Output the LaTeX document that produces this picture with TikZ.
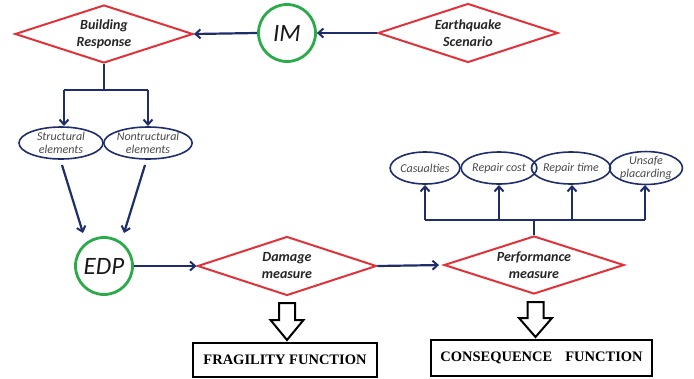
\documentclass[tikz,border=0pt]{standalone}
\usepackage{fontspec}
\setmainfont{Carlito}
\newfontfamily\timesf{Liberation Serif}
\usetikzlibrary{shapes.geometric,arrows.meta}
\definecolor{navy}{HTML}{1F2E6B}
\definecolor{dred}{HTML}{E0323A}
\definecolor{dgreen}{HTML}{2BAA4A}
\definecolor{etext}{HTML}{4A4A4A}
\tikzset{
  dia/.style={diamond, draw=dred, line width=2pt, inner sep=0pt, align=center, aspect=3.1,
    font=\fontsize{14}{17}\selectfont\bfseries\itshape, text=black!85},
  circ/.style={circle, draw=dgreen, line width=2.8pt, minimum size=57pt, inner sep=0pt,
    font=\fontsize{25}{27}\selectfont\itshape, text=black!90},
  ell/.style={ellipse, draw=navy, line width=1.6pt, inner sep=0pt, align=center,
    minimum height=32pt, font=\fontsize{12}{13}\selectfont\itshape, text=etext},
  arr/.style={draw=navy, line width=2.2pt, -{Straight Barb[length=5pt,width=9pt,line width=2pt]}},
  ln/.style={draw=navy, line width=2.2pt},
  fbox/.style={draw=black, line width=2pt, inner sep=0pt, font=\timesf\bfseries\fontsize{14.5}{16}\selectfont},
  hollow/.style={draw=black, line width=2pt, fill=white, line join=miter}
}
\begin{document}
\begin{tikzpicture}[x=1pt,y=-1pt]
\useasboundingbox (0,0) rectangle (694,378);
% top row
\node[dia, minimum width=178pt, minimum height=58pt] (br) at (104,34) {Building\\Response};
\node[circ] (im) at (287,33) {IM};
\node[dia, minimum width=180pt, minimum height=59pt] (eq) at (468,33) {Earthquake\\Scenario};
\draw[arr] (eq.west) -- (im.east);
\draw[arr] (im.west) -- (br.east);
% elements
\node[ell, minimum width=84pt] (st) at (61,143) {Structural\\elements};
\node[ell, minimum width=85pt] (ns) at (148,143) {Nontructural\\elements};
\coordinate (bsplit) at (104,90);
\coordinate (bl) at (64,90);
\coordinate (brr) at (148,90);
\draw[ln] (br.south) -- (bsplit);
\draw[ln] (bl) -- (brr);
\draw[arr] (bl) -- (64,126);
\draw[arr] (brr) -- (148,126);
% EDP
\node[circ] (edp) at (104,266) {EDP};
\coordinate (s1) at (62,165);
\coordinate (e1) at (83,233);
\coordinate (s2) at (145,165);
\coordinate (e2) at (124,233);
\draw[arr] (s1) -- (e1);
\draw[arr] (s2) -- (e2);
% damage, performance
\node[dia, minimum width=179pt, minimum height=59pt] (dm) at (287,266) {Damage\\measure};
\node[dia, minimum width=180pt, minimum height=58pt] (pm) at (534,265) {Performance\\measure};
\draw[arr] (edp.east) -- (dm.west);
\draw[arr, shorten >=4pt] (dm.east) -- (pm.west);
% consequences
\node[ell, minimum width=65pt] (c1) at (425,168) {Casualties};
\node[ell, minimum width=66pt] (c2) at (499,168) {Repair cost};
\node[ell, minimum width=67pt] (c3) at (571,168) {Repair time};
\node[ell, minimum width=68pt, minimum height=31pt] (c4) at (646,168) {Unsafe\\placarding};
\coordinate (ptop) at (534,220);
\coordinate (p1) at (425,220);
\coordinate (p4) at (645,220);
\draw[ln] (pm.north) -- (ptop);
\draw[ln] (p1) -- (p4);
\draw[arr] (p1) -- (425,185);
\draw[arr] (499,220) -- (499,185);
\draw[arr] (572,220) -- (572,185);
\draw[arr] (p4) -- (645,185);
% hollow arrows
\draw[hollow] (279,303) -- (295,303) -- (295,320) -- (303.5,320) -- (287,340) -- (270.5,320) -- (279,320) -- cycle;
\draw[hollow] (527.5,302) -- (543.5,302) -- (543.5,318) -- (552,318) -- (535.5,337) -- (519,318) -- (527.5,318) -- cycle;
% boxes
\node[fbox, minimum width=184pt, minimum height=34pt] (ff) at (285,360) {FRAGILITY FUNCTION};
\node[fbox, minimum width=221pt, minimum height=36pt] (cf) at (541.5,358) {CONSEQUENCE\hspace{0.9em}FUNCTION};
\end{tikzpicture}
\end{document}
